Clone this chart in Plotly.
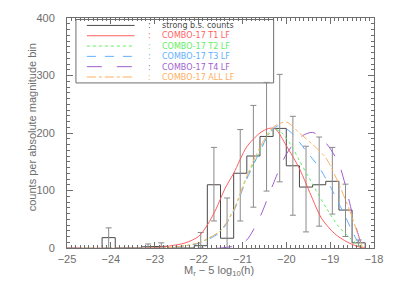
import plotly.graph_objects as go

# ---------------- data ----------------
bin_width = 0.3
bin_centers = [-24.05, -23.75, -23.45, -23.15, -22.85, -22.55, -22.25, -21.95, -21.65, -21.35,
               -21.05, -20.75, -20.45, -20.15, -19.85, -19.55, -19.25, -18.95, -18.65, -18.35]
bin_counts = [18, 0, 0, 2, 3, 0, 0, 4, 110, 17,
              130, 160, 194, 208, 143, 106, 110, 116, 66, 9]
err_low = [0, None, None, 0, 0, None, None, 0, 47, -53,
           47, 71, 99, 115, 57, 28, 38, 59, 20, 3]
err_high = [35, None, None, 7, 9, None, None, 27, 175, 87,
            206, 248, 288, 302, 229, 177, 193, 175, 111, 14]

t1_x = [-25, -23.1, -22.7, -22.3, -22.0, -21.8, -21.6, -21.4, -21.2, -20.9, -20.6, -20.4, -20.25,
        -20.0, -19.7, -19.4, -19.2, -18.9, -18.6, -18.3, -18.2]
t1_y = [0, 0, 3, 9, 20, 40, 68, 103, 130, 176, 200, 208, 207, 178, 138, 85, 52, 25, 10, 1, 0]

t2_x = [-25, -22.8, -22.4, -22.0, -21.7, -21.5, -21.2, -20.9, -20.6, -20.4, -20.3, -20.1, -19.9,
        -19.7, -19.4, -19.1, -18.8, -18.5, -18.3, -18.25]
t2_y = [0, 0, 3, 8, 20, 30, 66, 123, 169, 198, 208, 200, 180, 152, 111, 71, 37, 14, 2, 0]

t3_x = [-25, -22.8, -22.4, -22.0, -21.7, -21.5, -21.2, -20.9, -20.6, -20.4, -20.2, -20.0, -19.85,
        -19.55, -19.25, -18.95, -18.65, -18.4, -18.25]
t3_y = [0, 0, 3, 8, 18, 28, 64, 120, 168, 198, 212, 207, 198, 169, 140, 100, 54, 15, 0]

t4_x = [-25, -21.5, -21.1, -20.9, -20.6, -20.3, -20.0, -19.7, -19.4, -19.1, -18.8, -18.5, -18.3, -18.22]
t4_y = [0, 0, 5, 14, 54, 111, 163, 192, 201, 183, 146, 62, 10, 0]

all_x = [-25, -22.8, -22.4, -22.0, -21.7, -21.5, -21.2, -20.9, -20.6, -20.3, -20.0, -19.7, -19.4,
         -19.1, -18.8, -18.5, -18.3, -18.25]
all_y = [0, 0, 3, 9, 20, 30, 66, 125, 175, 210, 219, 200, 180, 157, 111, 54, 8, 0]

legend_labels = ["strong b.s. counts", "COMBO-17 T1 LF", "COMBO-17 T2 LF",
                 "COMBO-17 T3 LF", "COMBO-17 T4 LF", "COMBO-17 ALL LF"]
x_title = "M<sub>r</sub> − 5 log<sub>10</sub>(h)"
y_title = "counts per absolute magnitude bin"

# ---------------- style ----------------
FONT = "Liberation Sans"
AXC = "#6e6e6e"
HIST_C = "#4a4a4a"
ERR_C = "#8a8a8a"
colors = [HIST_C, "#ff5f5f", "#5fef5f", "#5fafff", "#9f5fcf", "#ffaf5f"]
dashes = ["solid", "solid", "dot", "dash", "longdash", "dashdot"]

W, H = 395, 282
L, R, T, B = 67, 19, 16, 34
pw, ph = W - L - R, H - T - B


def px(x):
    return (x - L) / pw


def py(y):
    return (H - B - y) / ph


fig = go.Figure()

# histogram as step outline
hx = [bin_centers[0] - bin_width / 2]
hy = [0]
for c, v in zip(bin_centers, bin_counts):
    hx += [c - bin_width / 2, c + bin_width / 2]
    hy += [v, v]
hx.append(bin_centers[-1] + bin_width / 2)
hy.append(0)
fig.add_trace(go.Scatter(x=hx, y=hy, mode="lines", line=dict(color=HIST_C, width=1),
                         showlegend=False, hoverinfo="skip"))

# error bars
ex, ey, eplus, eminus = [], [], [], []
for c, v, lo, hi in zip(bin_centers, bin_counts, err_low, err_high):
    if lo is None:
        continue
    ex.append(c)
    ey.append(v)
    eplus.append(hi - v)
    eminus.append(v - lo)
fig.add_trace(go.Scatter(x=ex, y=ey, mode="markers", marker=dict(size=1, color=ERR_C, opacity=0),
                         error_y=dict(type="data", symmetric=False, array=eplus, arrayminus=eminus,
                                      color=ERR_C, thickness=1, width=3),
                         showlegend=False, hoverinfo="skip"))

for (xs, ys), col, dsh in zip([(t1_x, t1_y), (t2_x, t2_y), (t3_x, t3_y), (t4_x, t4_y), (all_x, all_y)],
                              colors[1:], dashes[1:]):
    fig.add_trace(go.Scatter(x=xs, y=ys, mode="lines",
                             line=dict(color=col, width=1, dash=dsh, shape="spline", smoothing=0.8),
                             showlegend=False, hoverinfo="skip"))

# ---------------- custom legend ----------------
LEG_FS = 8
spacing = 1.3 * LEG_FS
n = len(legend_labels)
center = 49.5
rows = [center + (i - (n - 1) / 2) * spacing for i in range(n)]

shapes = [dict(type="rect", xref="paper", yref="paper", x0=px(76), x1=px(275),
               y0=py(rows[-1] + 6), y1=py(rows[0] - 6),
               line=dict(color=AXC, width=1), fillcolor="white", layer="below")]
for yy, col, dsh in zip(rows, colors, dashes):
    shapes.append(dict(type="line", xref="paper", yref="paper", x0=px(87), x1=px(135), y0=py(yy), y1=py(yy),
                       line=dict(color=col, width=1, dash=dsh), layer="below"))

colon_text = "<br>".join(f'<span style="color:{c}">:</span>' for c in colors)
label_text = "<br>".join(f'<span style="color:{c}">{t}</span>' for c, t in zip(colors, legend_labels))
annotations = [
    dict(xref="paper", yref="paper", x=px(150), y=py(center), text=colon_text, showarrow=False,
         xanchor="center", yanchor="middle", align="center",
         font=dict(family="DejaVu Sans", size=LEG_FS, color=AXC)),
    dict(xref="paper", yref="paper", x=px(161), y=py(center), text=label_text, showarrow=False,
         xanchor="left", yanchor="middle", align="left",
         font=dict(family="DejaVu Sans", size=LEG_FS, color=AXC)),
    dict(xref="paper", yref="paper", x=px(220), y=py(271), text=x_title, showarrow=False,
         xanchor="center", yanchor="middle", font=dict(family=FONT, size=11, color=AXC)),
    dict(xref="paper", yref="paper", x=px(32), y=py(126), text=y_title, showarrow=False, textangle=-90,
         xanchor="center", yanchor="middle", font=dict(family=FONT, size=11, color=AXC)),
]

axis_common = dict(showline=True, linecolor=AXC, linewidth=1, mirror="allticks", ticks="inside",
                   tickcolor=AXC, ticklen=6, showgrid=False, zeroline=False,
                   tickfont=dict(family=FONT, size=11, color=AXC))

fig.update_layout(
    width=W, height=H, margin=dict(l=L, r=R, t=T, b=B),
    paper_bgcolor="white", plot_bgcolor="white",
    shapes=shapes, annotations=annotations,
    xaxis=dict(range=[-25, -18], dtick=1, tick0=-25, ticklabelstandoff=1,
               minor=dict(dtick=0.1, ticklen=3, tickcolor=AXC, ticks="inside"),
               **axis_common),
    yaxis=dict(range=[0, 400], dtick=100, tick0=0, ticklabelstandoff=9,
               minor=dict(dtick=10, ticklen=3, tickcolor=AXC, ticks="inside"),
               **axis_common),
)

fig.write_html("out.html", config={"displayModeBar": False},
               post_script="document.body.style.margin='0px';")
